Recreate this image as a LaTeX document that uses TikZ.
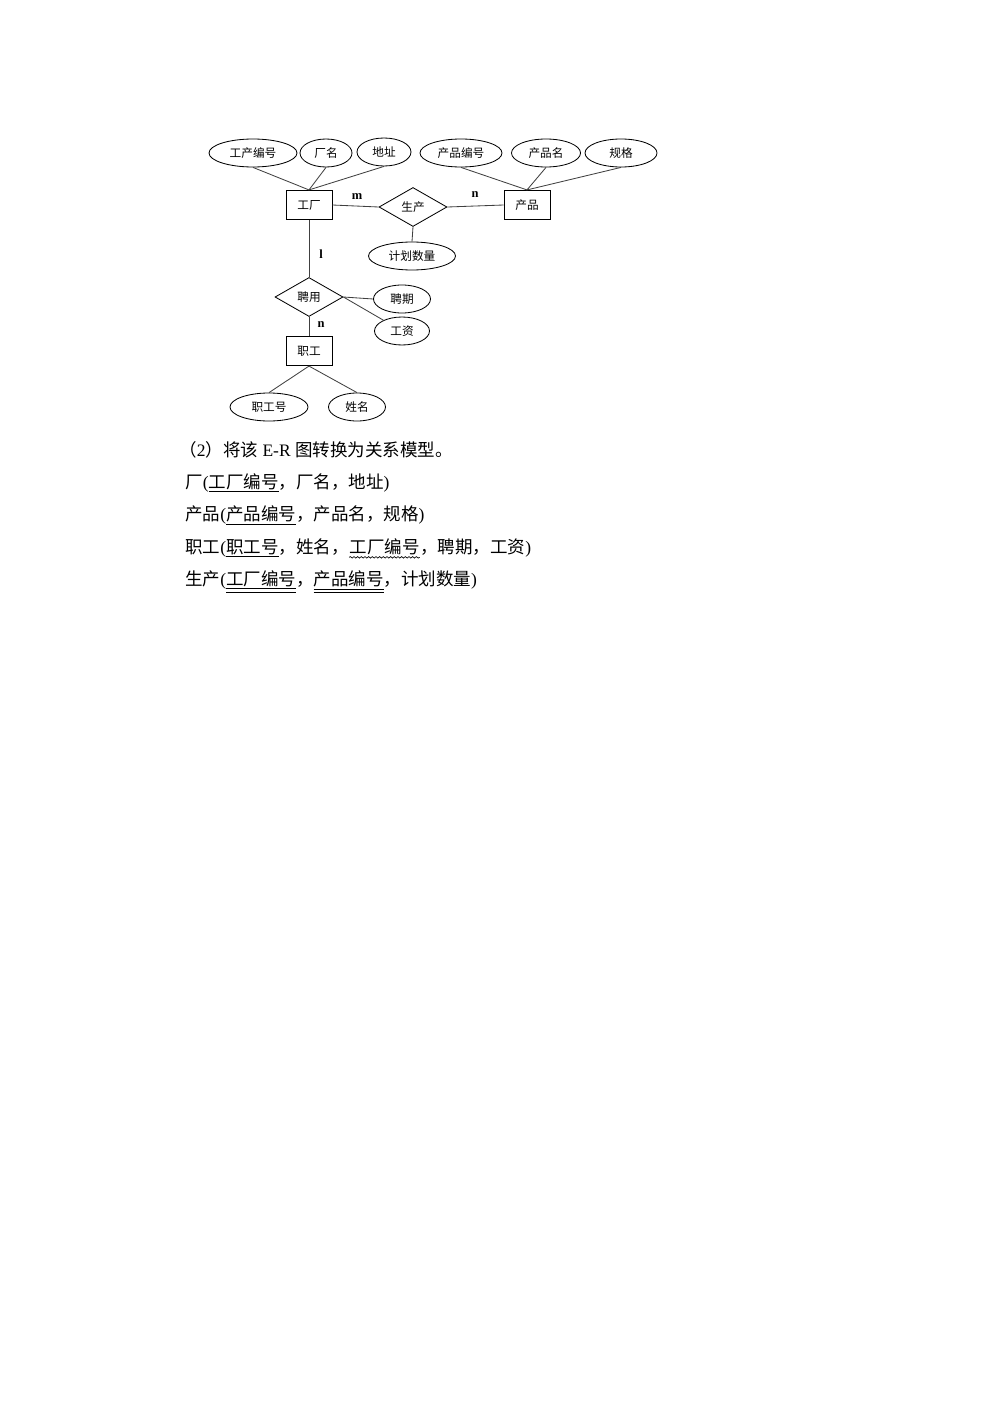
\documentclass[tikz,border=0pt]{standalone}
\usepackage{fontspec}
\setmainfont{Liberation Serif}
\newfontfamily\cjk{Noto Sans CJK SC}
\newcommand{\zh}[1]{{\cjk #1}}
\newcommand{\uul}[1]{\underline{\underline{#1}}}
\usetikzlibrary{shapes.geometric,decorations.pathmorphing}
\tikzset{
	attr/.style={ellipse, draw, inner sep=0pt, minimum height=16.8pt, font=\cjk\fontsize{7}{8}\selectfont},
	ent/.style={rectangle, draw, inner sep=0pt, minimum width=27.6pt, minimum height=17.6pt, font=\cjk\fontsize{7}{8}\selectfont},
	rel/.style={diamond, draw, inner sep=0pt, minimum width=40.8pt, minimum height=23.4pt, font=\cjk\fontsize{7}{8}\selectfont},
	card/.style={font=\bfseries\fontsize{7.5}{8}\selectfont},
	line/.style={draw=black!75, line width=0.5pt},
	row/.style={anchor=base west, inner sep=0pt, font=\fontsize{10.5}{12}\selectfont},
	wave/.style={decorate, decoration={snake, amplitude=0.45pt, segment length=2.2pt}, line width=0.4pt}
}
\begin{document}
\begin{tikzpicture}[x=0.6pt,y=-0.6pt,line width=0.5pt]
			\useasboundingbox[fill=white] (0,0) rectangle (993,1404);
			% entities and relationships
			\node[ent] (gc) at (309,205) {工厂};
			\node[ent] (cp) at (527,205) {产品};
			\node[ent] (zg) at (309,351) {职工};
			\node[rel] (sc) at (413,207) {生产};
			\node[rel] (py) at (309,297) {聘用};
			% attributes
			\node[attr, minimum width=52.8pt] (gcbh) at (253,153) {工产编号};
			\node[attr, minimum width=31.2pt] (cm) at (326,153) {厂名};
			\node[attr, minimum width=32.4pt] (dz) at (384,152) {地址};
			\node[attr, minimum width=49.2pt] (cpbh) at (461,153) {产品编号};
			\node[attr, minimum width=41.4pt] (cpm) at (546,153) {产品名};
			\node[attr, minimum width=43.2pt] (gg) at (621,153) {规格};
			\node[attr, minimum width=52.2pt] (jhsl) at (412,256) {计划数量};
			\node[attr, minimum width=34.2pt] (pq) at (402,299) {聘期};
			\node[attr, minimum width=33pt] (gz) at (402,331) {工资};
			\node[attr, minimum width=46.8pt] (zgh) at (269,407) {职工号};
			\node[attr, minimum width=34.2pt] (xm) at (357,407) {姓名};
			% connectors
			\draw[line] (gcbh.south) -- (gc.north);
			\draw[line] (cm.south) -- (gc.north);
			\draw[line] (dz.south) -- (gc.north);
			\draw[line] (cpbh.south) -- (cp.north);
			\draw[line] (cpm.south) -- (cp.north);
			\draw[line] (gg.south) -- (cp.north);
			\draw[line] (gc.east) -- (sc.west);
			\draw[line] (sc.east) -- (cp.west);
			\draw[line] (sc.south) -- (jhsl.north);
			\draw[line] (gc.south) -- (py.north);
			\draw[line] (py.south) -- (zg.north);
			\draw[line] (py.east) -- (pq.west);
			\draw[line] (py.east) -- (gz);
			\draw[line] (zg.south) -- (zgh.north);
			\draw[line] (zg.south) -- (xm.north);
			% cardinalities
			\node[card] (m1) at (357,197) {m};
			\node[card] (n1) at (475,195) {n};
			\node[card] (l1) at (321,254) {l};
			\node[card] (n2) at (321,325) {n};
			% relational model
			\node[row] (t0) at (179,456) {\zh{（}2\zh{）将该} E-R \zh{图转换为关系模型。}};
			\node[row] (t1) at (185,488) {\zh{厂}(\underline{\zh{工厂编号}}\zh{，厂名，地址})};
			\node[row] (t2) at (185,520) {\zh{产品}(\underline{\zh{产品编号}}\zh{，产品名，规格})};
			\node[row] (t3a) at (185,553) {\zh{职工}(\underline{\zh{职工号}}\zh{，姓名，}};
			\node[row] (t3b) at (t3a.base east) {\zh{工厂编号}};
			\node[row] (t3c) at (t3b.base east) {\zh{，聘期，工资})};
			\draw[wave] ([yshift=-2.6pt]t3b.base west) -- ([yshift=-2.6pt]t3b.base east);
			\node[row] (t4) at (185,585) {\zh{生产}(\uul{\zh{工厂编号}}\zh{，}\uul{\zh{产品编号}}\zh{，计划数量})};
		\end{tikzpicture}
\end{document}
